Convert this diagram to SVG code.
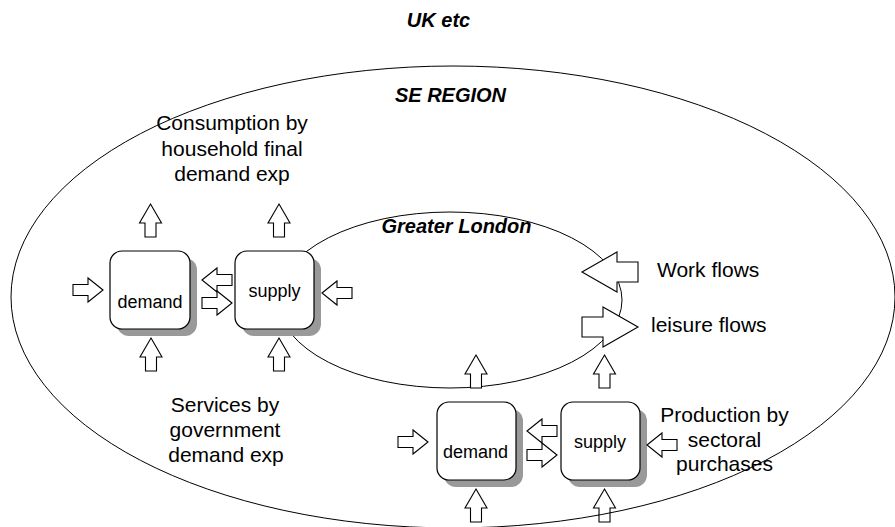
<svg xmlns="http://www.w3.org/2000/svg" xmlns:xlink="http://www.w3.org/1999/xlink" width="895" height="527" viewBox="0 0 895 527">
<style>
.region{fill:none;stroke:#000;stroke-width:1}
.box{fill:#fff;stroke:#000;stroke-width:1.2}
.shadow{fill:#999;stroke:none}
.arrow{fill:#fff;stroke:#000;stroke-width:1.1;stroke-linejoin:miter}
.lbl{font-family:"Liberation Sans",Arial,sans-serif;font-size:21px;fill:#000;text-anchor:middle}
.boxlbl{font-family:"Liberation Sans",Arial,sans-serif;font-size:18px;fill:#000;text-anchor:middle}
.title{font-family:"Liberation Sans",Arial,sans-serif;font-size:20px;font-weight:bold;font-style:italic;fill:#000;text-anchor:middle}
.side{font-family:"Liberation Sans",Arial,sans-serif;font-size:21px;fill:#000;text-anchor:start}
</style>
<defs>
<polygon id="up" class="arrow" points="0,0 11,19 5.5,19 5.5,33 -5.5,33 -5.5,19 -11,19"/>
<polygon id="rt" class="arrow" points="0,0 -15,-12 -15,-5.5 -30,-5.5 -30,5.5 -15,5.5 -15,12"/>
<polygon id="big" class="arrow" points="0,0 -35,-20 -35,-10 -56,-10 -56,10 -35,10 -35,20"/>
</defs>
<rect width="895" height="527" fill="#fff"/>

<g id="greater-london">
<ellipse class="region" cx="450" cy="300" rx="172" ry="88"/>
</g>

<g id="demand-se">
<rect class="shadow" x="117" y="258" width="80" height="78" rx="12"/>
<rect class="box" x="110" y="251" width="80" height="78" rx="12"/>
<text class="boxlbl" x="150" y="308">demand</text>
</g>
<g id="supply-se">
<rect class="shadow" x="242" y="258" width="79" height="78" rx="12"/>
<rect class="box" x="235" y="251" width="79" height="78" rx="12"/>
<text class="boxlbl" x="274.5" y="297">supply</text>
</g>
<g id="demand-gl">
<rect class="shadow" x="444" y="409" width="79" height="78" rx="12"/>
<rect class="box" x="437" y="402" width="79" height="78" rx="12"/>
<text class="boxlbl" x="475.5" y="458">demand</text>
</g>
<g id="supply-gl">
<rect class="shadow" x="568" y="409" width="79" height="78" rx="12"/>
<rect class="box" x="561" y="402" width="79" height="78" rx="12"/>
<text class="boxlbl" x="600" y="448">supply</text>
</g>

<g id="connectors">
<use xlink:href="#up" x="150.5" y="204"/>
<use xlink:href="#up" x="279" y="204"/>
<use xlink:href="#up" x="151" y="338"/>
<use xlink:href="#up" x="279" y="338"/>
<use xlink:href="#up" x="476" y="355"/>
<use xlink:href="#up" x="604.5" y="355"/>
<use xlink:href="#up" x="476" y="489"/>
<use xlink:href="#up" x="604.5" y="489"/>
<use xlink:href="#rt" transform="translate(103,290)"/>
<use xlink:href="#rt" transform="translate(202,280) scale(-1,1)"/>
<use xlink:href="#rt" transform="translate(232,303)"/>
<use xlink:href="#rt" transform="translate(322,293) scale(-1,1)"/>
<use xlink:href="#rt" transform="translate(428,442)"/>
<use xlink:href="#rt" transform="translate(527,431) scale(-1,1)"/>
<use xlink:href="#rt" transform="translate(557,455)"/>
<use xlink:href="#rt" transform="translate(647,445) scale(-1,1)"/>
<use xlink:href="#big" transform="translate(582,272) scale(-1,1)"/>
<use xlink:href="#big" transform="translate(638,327)"/>
</g>

<g id="se-region">
<ellipse class="region" cx="453" cy="297" rx="442" ry="231"/>
</g>

<g id="labels">
<text class="title" x="438.5" y="27">UK etc</text>
<text class="title" x="450.5" y="102">SE REGION</text>
<text class="title" x="456.5" y="233">Greater London</text>
<text class="lbl" x="232" y="130">Consumption by</text>
<text class="lbl" x="232" y="155.5">household final</text>
<text class="lbl" x="232" y="181">demand exp</text>
<text class="lbl" x="225" y="412">Services by</text>
<text class="lbl" x="225" y="437">government</text>
<text class="lbl" x="226" y="462">demand exp</text>
<text class="lbl" x="724.5" y="421.5">Production by</text>
<text class="lbl" x="724.5" y="446.5">sectoral</text>
<text class="lbl" x="724.5" y="471">purchases</text>
<text class="side" x="657" y="277">Work flows</text>
<text class="side" x="651" y="332">leisure flows</text>
</g>
</svg>
